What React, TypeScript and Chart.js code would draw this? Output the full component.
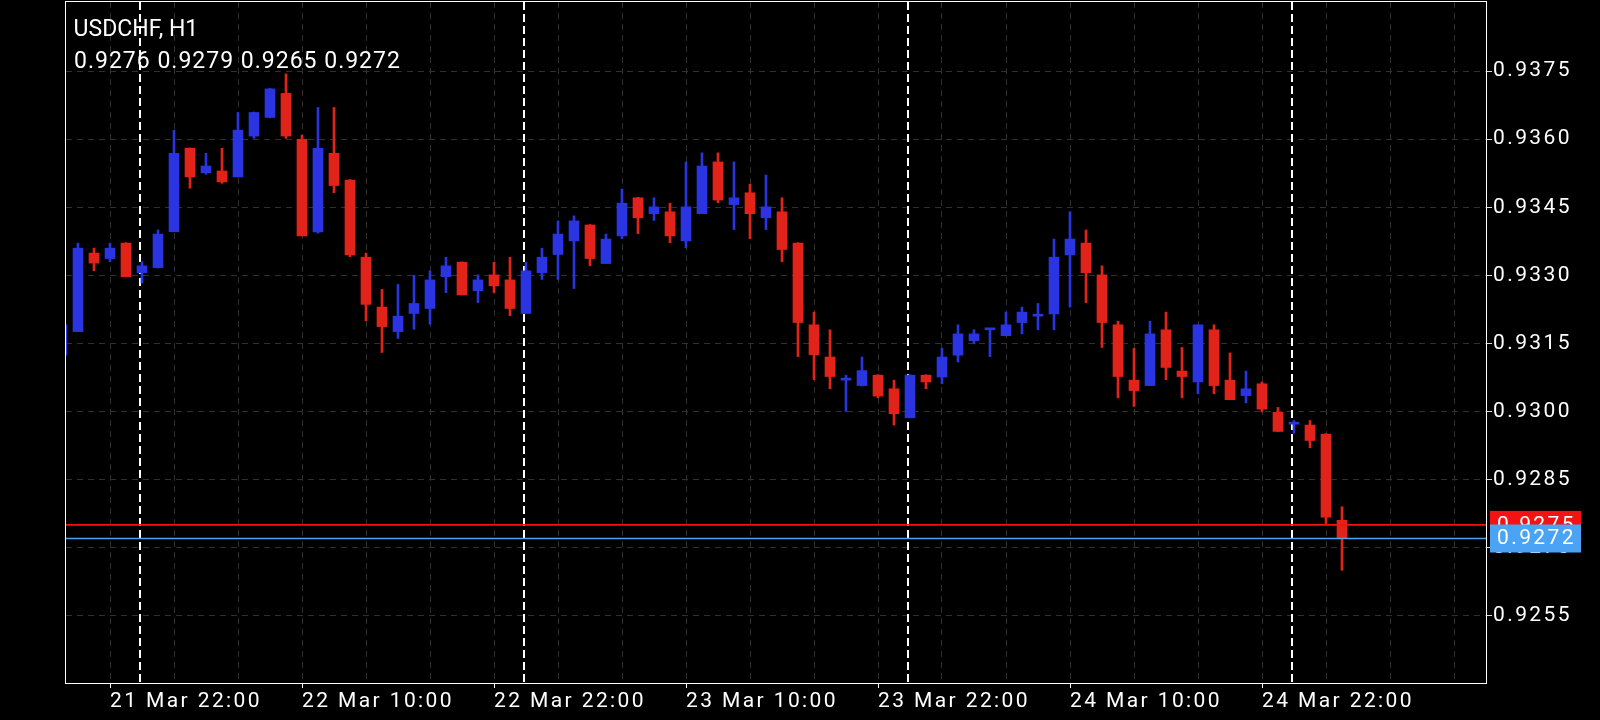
import React, { useEffect, useRef } from "react";
import { Chart, registerables } from "chart.js";

Chart.register(...registerables);

// ---------- data ----------
const symbolTitle = "USDCHF, H1";
const firstCandleIndex = -1; // index of the first candle (partly hidden at the left edge)

const opens = [
  0.93124, 0.93176, 0.93349, 0.93337, 0.93371, 0.93306, 0.93317, 0.93396, 0.9358, 0.93526,
  0.9353, 0.93517, 0.93607, 0.93648, 0.93701, 0.936, 0.93396, 0.93569, 0.9351, 0.9334,
  0.9323, 0.93176, 0.93216, 0.93227, 0.93297, 0.93329, 0.93266, 0.93301, 0.9329, 0.93216,
  0.93306, 0.93346, 0.93376, 0.93411, 0.93326, 0.93387, 0.93471, 0.93436, 0.9344, 0.93376,
  0.93436, 0.9355, 0.93456, 0.93482, 0.93427, 0.9344, 0.93371, 0.93191, 0.9312, 0.93069,
  0.93057, 0.9308, 0.9305, 0.92986, 0.9308, 0.93076, 0.93124, 0.93156, 0.9318, 0.93167,
  0.93196, 0.9321, 0.93215, 0.93345, 0.93371, 0.93301, 0.93191, 0.93069, 0.93057, 0.9318,
  0.93089, 0.93065, 0.9318, 0.93069, 0.93035, 0.93061, 0.92998, 0.92972, 0.9297, 0.9295,
  0.9276,
];
const highs = [
  0.93191, 0.93371, 0.9336, 0.93371, 0.93372, 0.9333, 0.934, 0.9362, 0.93581, 0.93569,
  0.9358, 0.93659, 0.9366, 0.93712, 0.93744, 0.93609, 0.9367, 0.9367, 0.93511, 0.93349,
  0.93269, 0.9328, 0.933, 0.9331, 0.9334, 0.9333, 0.93301, 0.93329, 0.9334, 0.93329,
  0.9336, 0.9342, 0.93431, 0.93412, 0.93391, 0.9349, 0.93472, 0.93471, 0.93459, 0.9355,
  0.9357, 0.9357, 0.9355, 0.93501, 0.93521, 0.93471, 0.93372, 0.93219, 0.9318, 0.9308,
  0.9312, 0.93081, 0.93069, 0.93081, 0.93081, 0.93139, 0.93191, 0.9318, 0.93182, 0.93219,
  0.9323, 0.93238, 0.9338, 0.9344, 0.934, 0.93321, 0.93199, 0.93139, 0.93199, 0.93219,
  0.93141, 0.93191, 0.93191, 0.93129, 0.93089, 0.93065, 0.93009, 0.9298, 0.9298, 0.92951,
  0.9279,
];
const lows = [
  0.9312, 0.93176, 0.9331, 0.9333, 0.93297, 0.93283, 0.93316, 0.93396, 0.93492, 0.93523,
  0.93503, 0.93517, 0.93602, 0.93647, 0.93602, 0.93387, 0.93393, 0.93482, 0.93341, 0.932,
  0.9313, 0.93161, 0.93181, 0.93192, 0.93262, 0.93257, 0.9324, 0.93262, 0.93211, 0.93216,
  0.93291, 0.93291, 0.93271, 0.93321, 0.93326, 0.93381, 0.93392, 0.93421, 0.93372, 0.93361,
  0.93436, 0.9346, 0.93401, 0.93381, 0.93401, 0.9333, 0.93121, 0.9307, 0.9305, 0.93,
  0.93056, 0.9303, 0.9297, 0.92986, 0.9305, 0.93061, 0.93109, 0.93149, 0.93121, 0.93167,
  0.93171, 0.9318, 0.9318, 0.9323, 0.9324, 0.93141, 0.9303, 0.93011, 0.93057, 0.9307,
  0.9303, 0.93039, 0.93039, 0.93026, 0.93019, 0.92999, 0.92956, 0.92952, 0.9292, 0.92753,
  0.9265,
];
const closes = [
  0.93191, 0.9336, 0.93327, 0.9336, 0.93297, 0.93321, 0.93391, 0.93569, 0.93517, 0.93541,
  0.93506, 0.9362, 0.93659, 0.93711, 0.93607, 0.93387, 0.9358, 0.93498, 0.93345, 0.93236,
  0.93187, 0.9321, 0.93238, 0.9329, 0.93321, 0.93257, 0.9329, 0.93277, 0.93227, 0.9331,
  0.9334, 0.93391, 0.9342, 0.93337, 0.9338, 0.93459, 0.93427, 0.93451, 0.93387, 0.93451,
  0.93541, 0.93466, 0.93471, 0.93436, 0.93451, 0.93357, 0.93196, 0.93125, 0.93077, 0.93071,
  0.9309, 0.93034, 0.92995, 0.9308, 0.93065, 0.9312, 0.93171, 0.93171, 0.93182, 0.93191,
  0.93219, 0.93212, 0.9334, 0.9338, 0.93306, 0.93196, 0.93077, 0.93046, 0.93171, 0.93097,
  0.93077, 0.93191, 0.93057, 0.93026, 0.9305, 0.93005, 0.92956, 0.92973, 0.92936, 0.92767,
  0.9272,
];

const xTickIndices = [2, 14, 26, 38, 50, 62, 74];
const xTickLabels = [
  "21 Mar 22:00",
  "22 Mar 10:00",
  "22 Mar 22:00",
  "23 Mar 10:00",
  "23 Mar 22:00",
  "24 Mar 10:00",
  "24 Mar 22:00",
];
const xGridIndices = [2, 6, 10, 14, 18, 22, 26, 30, 34, 38, 42, 46, 50, 54, 58, 62, 66, 70, 74, 78, 82, 86];
const daySeparatorIndices = [4, 28, 52, 76];
const yTickValues = [0.9255, 0.927, 0.9285, 0.93, 0.9315, 0.933, 0.9345, 0.936, 0.9375];
const askPrice = 0.9275;
const bidPrice = 0.9272;

// axis ranges
const X_MIN = -0.75;
const X_MAX = 88;
const Y_MIN = 0.924015;
const Y_MAX = 0.939025;

// ---------- styles ----------
const BULL = "#2a34e0";
const BEAR = "#e2231a";
const GRID = "#303030";
const ASK_COLOR = "#f51212";
const BID_COLOR = "#4aa3f5";
const FONT = "Roboto";

const overlayPlugin = {
  id: "mtOverlay",
  beforeDraw(chart: any) {
    const ctx = chart.ctx;
    ctx.save();
    ctx.fillStyle = "#000";
    ctx.fillRect(0, 0, chart.width, chart.height);
    ctx.restore();
    (ctx as any).letterSpacing = "2.4px";
  },
  beforeDatasetsDraw(chart: any) {
    const { ctx, chartArea, scales } = chart;
    const xs = scales.x;
    ctx.save();
    ctx.beginPath();
    ctx.rect(chartArea.left, chartArea.top, chartArea.right - chartArea.left, chartArea.bottom - chartArea.top);
    ctx.clip();
    ctx.strokeStyle = "#ffffff";
    ctx.lineWidth = 2;
    ctx.setLineDash([8, 4]);
    for (const idx of daySeparatorIndices) {
      const px = Math.round(xs.getPixelForValue(idx - 0.125));
      ctx.beginPath();
      ctx.moveTo(px, chartArea.top);
      ctx.lineTo(px, chartArea.bottom);
      ctx.stroke();
    }
    ctx.restore();
  },
  afterDatasetsDraw(chart: any) {
    const { ctx, chartArea, scales } = chart;
    const ys = scales.y;
    ctx.save();
    ctx.setLineDash([]);
    ctx.lineWidth = 1.6;
    const lines: [number, string][] = [
      [askPrice, ASK_COLOR],
      [bidPrice, BID_COLOR],
    ];
    for (const [p, c] of lines) {
      const py = ys.getPixelForValue(p);
      ctx.strokeStyle = c;
      ctx.beginPath();
      ctx.moveTo(chartArea.left, py);
      ctx.lineTo(chartArea.right, py);
      ctx.stroke();
    }
    ctx.restore();
  },
  afterDraw(chart: any) {
    const { ctx, chartArea, scales } = chart;
    const ys = scales.y;
    ctx.save();
    // frame
    ctx.strokeStyle = "#ffffff";
    ctx.lineWidth = 1;
    ctx.setLineDash([]);
    ctx.strokeRect(chartArea.left - 0.5, chartArea.top - 0.5, chartArea.right - chartArea.left + 1, chartArea.bottom - chartArea.top + 1);

    // price labels
    const boxes: [number, string][] = [
      [askPrice, ASK_COLOR],
      [bidPrice, BID_COLOR],
    ];
    ctx.font = `21px ${FONT}`;
    (ctx as any).letterSpacing = "2.4px";
    ctx.textBaseline = "middle";
    ctx.textAlign = "left";
    for (const [p, c] of boxes) {
      const py = ys.getPixelForValue(p);
      ctx.fillStyle = c;
      ctx.fillRect(chartArea.right + 4, py - 14, 91, 28);
      ctx.fillStyle = "#ffffff";
      ctx.fillText(p.toFixed(4), chartArea.right + 11, py + 0.5);
    }

    // header
    const last = opens.length - 1;
    ctx.fillStyle = "#ffffff";
    ctx.textBaseline = "alphabetic";
    ctx.font = `23px ${FONT}`;
    (ctx as any).letterSpacing = "0px";
    ctx.fillText(symbolTitle, 73.6, 35.5);
    (ctx as any).letterSpacing = "1px";
    const ohlc = [opens[last], highs[last], lows[last], closes[last]].map((v) => v.toFixed(4)).join(" ");
    ctx.fillText(ohlc, 74, 67.8);
    ctx.restore();
  },
};

export default function App() {
  const canvasRef = useRef<HTMLCanvasElement | null>(null);

  useEffect(() => {
    document.body.style.margin = "0";
    document.body.style.background = "#000";
    const canvas = canvasRef.current;
    if (!canvas) return;

    const idx = opens.map((_, k) => firstCandleIndex + k);
    const colors = idx.map((_, k) => (closes[k] >= opens[k] ? BULL : BEAR));
    const wickData = idx.map((x, k) => ({ x, y: [lows[k], highs[k]] }));
    const bodyData = idx.map((x, k) => ({ x, y: [opens[k], closes[k]] }));

    const chart = new Chart(canvas, {
      type: "bar",
      data: {
        datasets: [
          {
            label: "body",
            data: bodyData as any,
            backgroundColor: colors,
            borderWidth: 0,
            barThickness: 10,
            grouped: false,
            minBarLength: 2,
            clip: 0,
            order: 1,
          } as any,
          {
            label: "wick",
            data: wickData as any,
            backgroundColor: colors,
            borderWidth: 0,
            barThickness: 2,
            grouped: false,
            clip: 0,
            order: 2,
          } as any,
        ],
      },
      options: {
        responsive: false,
        maintainAspectRatio: false,
        animation: false,
        events: [],
        devicePixelRatio: 1,
        layout: { padding: { left: 66, top: 2, right: 0, bottom: 0 } },
        plugins: {
          legend: { display: false },
          tooltip: { enabled: false },
          title: { display: false },
        },
        scales: {
          x: {
            type: "linear",
            position: "bottom",
            min: X_MIN,
            max: X_MAX,
            offset: false,
            afterBuildTicks: (scale: any) => {
              scale.ticks = xGridIndices.map((v) => ({ value: v }));
            },
            afterFit: (scale: any) => {
              scale.height = 37;
              scale.paddingLeft = 0;
              scale.paddingRight = 0;
              scale.paddingTop = 0;
              scale.paddingBottom = 0;
            },
            grid: {
              offset: false,
              color: GRID,
              lineWidth: 1,
              drawTicks: true,
              tickLength: 5,
              tickWidth: 1,
              tickColor: (c: any) =>
                c.tick && xTickIndices.includes(c.tick.value) ? "#ffffff" : "rgba(0,0,0,0)",
            },
            border: { display: false, dash: [6, 5] },
            ticks: {
              autoSkip: false,
              maxRotation: 0,
              minRotation: 0,
              align: "start",
              padding: 1,
              color: "#ffffff",
              font: { family: FONT, size: 21, lineHeight: 1.2 },
              callback: (value: any) => {
                const k = xTickIndices.indexOf(Number(value));
                return k >= 0 ? xTickLabels[k] : "";
              },
            },
          },
          y: {
            type: "linear",
            position: "right",
            min: Y_MIN,
            max: Y_MAX,
            beginAtZero: false,
            afterBuildTicks: (scale: any) => {
              scale.ticks = yTickValues.map((v) => ({ value: v }));
            },
            afterFit: (scale: any) => {
              scale.width = 114;
              scale.paddingLeft = 0;
              scale.paddingRight = 0;
              scale.paddingTop = 0;
              scale.paddingBottom = 0;
            },
            grid: {
              color: GRID,
              lineWidth: 1,
              drawTicks: true,
              tickLength: 6,
              tickWidth: 1,
              tickColor: "#d8d8d8",
            },
            border: { display: false, dash: [6, 5] },
            ticks: {
              autoSkip: false,
              padding: 1,
              color: "#ffffff",
              font: { family: FONT, size: 21, lineHeight: 1.2 },
              callback: (value: any) => Number(value).toFixed(4),
            },
          },
        },
      } as any,
      plugins: [overlayPlugin as any],
    });

    return () => {
      chart.destroy();
    };
  }, []);

  return (
    <canvas
      ref={canvasRef}
      width={1600}
      height={720}
      style={{ display: "block", width: 1600, height: 720, position: "fixed", left: 0, top: 0, background: "#000" }}
    />
  );
}
